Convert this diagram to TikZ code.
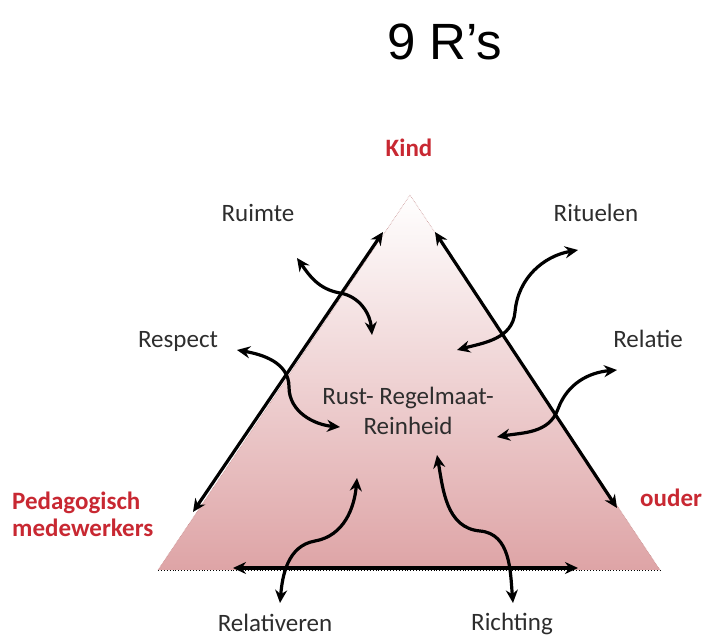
\documentclass[tikz,border=0pt]{standalone}
\usepackage{fontspec}
\setmainfont{Carlito}
\newfontfamily\titlefont{Liberation Sans}
\usetikzlibrary{arrows.meta}
\definecolor{wordgray}{RGB}{45,45,45}
\definecolor{whored}{RGB}{200,40,50}
\definecolor{rosebottom}{RGB}{222,164,166}
\definecolor{roseedge}{RGB}{200,145,145}

\begin{document}
\begin{tikzpicture}[x=1pt, y=1pt,
    word/.style={inner sep=0pt, anchor=base, text=wordgray, font=\fontsize{25}{30}\selectfont},
    who/.style={word, text=whored, font=\fontsize{25}{27}\selectfont\bfseries},
    link/.style={line width=3.2pt, {Stealth[length=13pt,width=12pt]}-{Stealth[length=13pt,width=12pt]}}]
    \useasboundingbox (0, 0) rectangle (702, 637);

    % the triangle
    \path (410, 442) coordinate (top);
    \path (158,  67) coordinate (left);
    \path (660,  67) coordinate (right);
    \shade [top color=white, bottom color=rosebottom] (top) -- (left) -- (right) -- cycle;
    \draw [roseedge, line width=0.6pt, densely dotted] (left) -- (top) -- (right);
    \draw [black, line width=0.9pt, dotted] (left) -- (right);

    % texts
    \path (387, 577) node [inner sep=0pt, anchor=base west, font=\titlefont\fontsize{51}{60}\selectfont] (title) {9 R’s};
    \path (409, 480) node [who] (kind) {Kind};
    \path ( 12, 100) node [who, anchor=base west, align=left] (staff) {Pedagogisch\\medewerkers};
    \path (640, 130) node [who, anchor=base west] (parents) {ouder};
    \path (258, 415) node [word] (ruimte) {Ruimte};
    \path (596, 415) node [word] (rituelen) {Rituelen};
    \path (178, 289) node [word] (respect) {Respect};
    \path (648, 289) node [word] (relatie) {Relatie};
    \path (408, 202) node [word, align=center] (core) {Rust- Regelmaat-\\Reinheid};
    \path (275,   5) node [word] (relativeren) {Relativeren};
    \path (512,   6) node [word] (richting) {Richting};

    % free ends of the arrows
    \path (193, 125) coordinate (leftA);
    \path (383, 405) coordinate (leftB);
    \path (435, 405) coordinate (rightA);
    \path (617, 129) coordinate (rightB);
    \path (233,  69) coordinate (baseA);
    \path (578,  69) coordinate (baseB);
    \path (297, 379) coordinate (ruimteA);
    \path (372, 302) coordinate (ruimteB);
    \path (457, 287) coordinate (rituelenA);
    \path (578, 387) coordinate (rituelenB);
    \path (237, 287) coordinate (respectA);
    \path (340, 210) coordinate (respectB);
    \path (497, 200) coordinate (relatieA);
    \path (617, 267) coordinate (relatieB);
    \path (357, 159) coordinate (relativerenA);
    \path (280,  34) coordinate (relativerenB);
    \path (437, 182) coordinate (richtingA);
    \path (513,  34) coordinate (richtingB);

    % arrows
    \draw [link] (leftA) -- (leftB);
    \draw [link] (rightA) -- (rightB);
    \draw [link] (baseA) -- (baseB);
    \draw [link] (ruimteA) to [out=-55, in=170] (340, 344) to [out=-10, in=95] (ruimteB);
    \draw [link] (rituelenA) to [out=15, in=-95] (515, 325) to [out=85, in=190] (rituelenB);
    \draw [link] (respectA) to [out=-10, in=90] (289, 250) to [out=-90, in=175] (respectB);
    \draw [link] (relatieA) to [out=10, in=-110] (558, 228) to [out=70, in=185] (relatieB);
    \draw [link] (relativerenA) to [out=-95, in=10] (315, 96) to [out=190, in=85] (relativerenB);
    \draw [link] (richtingA) to [out=-80, in=175] (480, 106) to [out=-5, in=95] (richtingB);
\end{tikzpicture}
\end{document}
